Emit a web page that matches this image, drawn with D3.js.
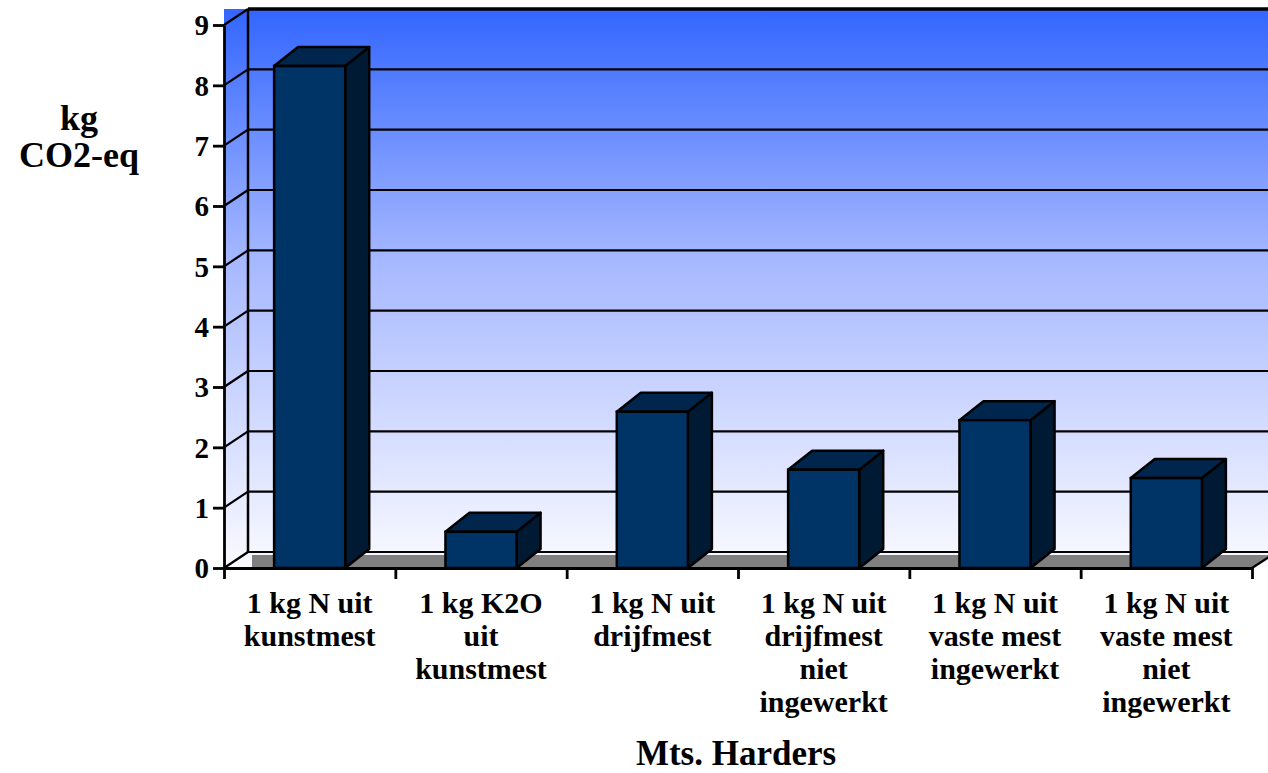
<!DOCTYPE html>
<html>
<head>
<meta charset="utf-8">
<script src="https://cdn.jsdelivr.net/npm/d3@7"></script>
<style>
  body { margin: 0; background: #fff; }
  text { font-family: "Liberation Serif", "Times New Roman", serif; font-weight: bold; fill: #000; }
</style>
</head>
<body>
<script>
// data
var categories = ["c1", "c2", "c3", "c4", "c5", "c6"];
var labels = [
    ["1 kg N uit", "kunstmest"],
    ["1 kg K2O", "uit", "kunstmest"],
    ["1 kg N uit", "drijfmest"],
    ["1 kg N uit", "drijfmest", "niet", "ingewerkt"],
    ["1 kg N uit", "vaste mest", "ingewerkt"],
    ["1 kg N uit", "vaste mest", "niet", "ingewerkt"]
];
var values = [8.32, 0.6, 2.59, 1.63, 2.45, 1.49];
var yTicks = [0, 1, 2, 3, 4, 5, 6, 7, 8, 9];

var W = 1268, H = 773;
var plotL = 224, plotR = 1252, plotT = 25, plotB = 568;
var depthX = 24, depthY = -16;   // wall depth
var barDX = 24, barDY = -19;     // bar depth

var svg = d3.select("body").append("svg")
    .attr("width", W)
    .attr("height", H);

var defs = svg.append("defs");
var grad = defs.append("linearGradient")
    .attr("id", "wall")
    .attr("x1", 0).attr("y1", 0).attr("x2", 0).attr("y2", 1);
grad.append("stop").attr("offset", "0%").attr("stop-color", "#3366ff");
grad.append("stop").attr("offset", "45%").attr("stop-color", "#a6b8ff");
grad.append("stop").attr("offset", "100%").attr("stop-color", "#fafaff");

var x = d3.scaleBand()
    .domain(categories)
    .range([plotL, plotR])
    .padding(0);

var xb = d3.scaleLinear()
    .domain([0, categories.length])
    .range([plotL, plotR]);

var y = d3.scaleLinear()
    .domain([0, 9])
    .range([plotB, plotT]);

// back wall + side wall background
svg.append("rect")
    .attr("x", plotL)
    .attr("y", y(9) + depthY)
    .attr("width", W - plotL)
    .attr("height", plotB - (y(9) + depthY))
    .attr("fill", "url(#wall)");

// gridlines on back wall
svg.selectAll(".grid")
    .data(yTicks)
    .enter()
    .append("line")
    .attr("class", "grid")
    .attr("x1", plotL + depthX)
    .attr("x2", W)
    .attr("y1", (d) => y(d) + depthY)
    .attr("y2", (d) => y(d) + depthY)
    .attr("stroke", "#000")
    .attr("stroke-width", (d) => d == 9 ? 3.5 : 2.2);

// diagonals on side wall
svg.selectAll(".diag")
    .data(yTicks)
    .enter()
    .append("line")
    .attr("class", "diag")
    .attr("x1", plotL)
    .attr("x2", plotL + depthX)
    .attr("y1", (d) => y(d))
    .attr("y2", (d) => y(d) + depthY)
    .attr("stroke", "#000")
    .attr("stroke-width", 2.2);

// back-left vertical
svg.append("line")
    .attr("x1", plotL + depthX).attr("x2", plotL + depthX)
    .attr("y1", y(9) + depthY).attr("y2", y(0) + depthY)
    .attr("stroke", "#000")
    .attr("stroke-width", 2.5);

// floor
svg.append("polygon")
    .attr("points", [
        [plotL + 28, y(0) - 13], [W, y(0) - 13], [W, y(0) - 11],
        [plotR, y(0)], [plotL + 28, y(0)]
    ].join(" "))
    .attr("fill", "#808080");

svg.append("line")
    .attr("x1", plotR).attr("y1", y(0))
    .attr("x2", plotR + 20).attr("y2", y(0) - 13)
    .attr("stroke", "#000").attr("stroke-width", 2.2);

// left axis
var leftAxis = d3.axisLeft(y)
    .tickValues(yTicks)
    .tickSize(11)
    .tickSizeOuter(0)
    .tickPadding(4)
    .tickFormat(d3.format("d"));

var ga = svg.append("g")
    .attr("class", "left axis")
    .attr("transform", "translate(" + plotL + ",0)")
    .call(leftAxis);
ga.select(".domain").attr("stroke-width", 2.8);
ga.selectAll(".tick line").attr("stroke-width", 2.8);
ga.selectAll(".tick text")
    .attr("font-size", "29px")
    .attr("dy", "0.34em")
    .attr("font-family", null);

// bottom axis (category boundaries)
var bottomAxis = d3.axisBottom(xb)
    .ticks(categories.length)
    .tickSize(11)
    .tickSizeOuter(0)
    .tickFormat("");

var gb = svg.append("g")
    .attr("class", "bottom axis")
    .attr("transform", "translate(0," + plotB + ")")
    .call(bottomAxis);
gb.select(".domain").attr("stroke-width", 2.8);
gb.selectAll(".tick line").attr("stroke-width", 2.8);

// bars
var barW = x.bandwidth() * 0.415;
var bars = svg.selectAll(".bar")
    .data(values)
    .enter()
    .append("g")
    .attr("class", "bar");

function bx(d, i) { return x(categories[i]) + (x.bandwidth() - barW) / 2; }

bars.append("polygon")
    .attr("points", (d, i) => {
        var x1 = bx(d, i) + barW;
        return [[x1, y(d)], [x1 + barDX, y(d) + barDY], [x1 + barDX, y(0) + barDY], [x1, y(0)]].join(" ");
    })
    .attr("fill", "#001a33")
    .attr("stroke", "#000")
    .attr("stroke-width", 2.5)
    .attr("stroke-linejoin", "round");

bars.append("polygon")
    .attr("points", (d, i) => {
        var x0 = bx(d, i), x1 = x0 + barW;
        return [[x0, y(d)], [x0 + barDX, y(d) + barDY], [x1 + barDX, y(d) + barDY], [x1, y(d)]].join(" ");
    })
    .attr("fill", "#00264d")
    .attr("stroke", "#000")
    .attr("stroke-width", 2.5)
    .attr("stroke-linejoin", "round");

bars.append("rect")
    .attr("x", (d, i) => bx(d, i))
    .attr("y", (d) => y(d))
    .attr("width", barW)
    .attr("height", (d) => plotB - y(d))
    .attr("fill", "#003366")
    .attr("stroke", "#000")
    .attr("stroke-width", 2.5);

// category labels
var lab = svg.selectAll(".cat")
    .data(labels)
    .enter()
    .append("text")
    .attr("class", "cat")
    .attr("text-anchor", "middle")
    .attr("font-size", "30px");

lab.selectAll("tspan")
    .data((d, i) => d.map((t) => ({t: t, i: i})))
    .enter()
    .append("tspan")
    .attr("x", (d) => x(categories[d.i]) + x.bandwidth() / 2)
    .attr("y", (d, j) => 613 + j * 33)
    .text((d) => d.t);

// axis titles
svg.append("text")
    .attr("x", 79)
    .attr("y", 130)
    .attr("text-anchor", "middle")
    .attr("font-size", "36px")
    .text("kg");
svg.append("text")
    .attr("x", 79)
    .attr("y", 167)
    .attr("text-anchor", "middle")
    .attr("font-size", "36px")
    .text("CO2-eq");

svg.append("text")
    .attr("x", 736)
    .attr("y", 765)
    .attr("text-anchor", "middle")
    .attr("font-size", "35px")
    .text("Mts. Harders");
</script>
</body>
</html>
